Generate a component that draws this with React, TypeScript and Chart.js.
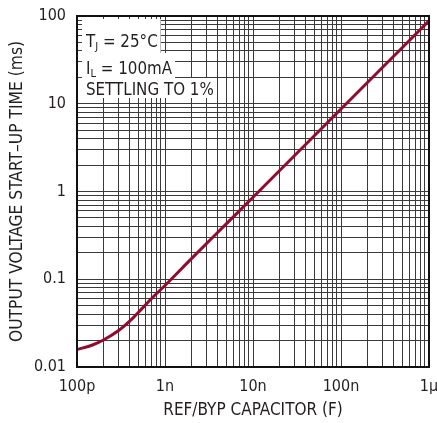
import React, { useEffect, useRef } from "react";
import { Chart, registerables } from "chart.js";

Chart.register(...registerables);

// ---- data ----
const capacitanceF = [1e-10, 1.5e-10, 2e-10, 3e-10, 4e-10, 5e-10, 7e-10, 1e-9, 2e-9, 5e-9, 1e-8, 1e-7, 1e-6];
const startupMs = [0.0158, 0.0178, 0.0203, 0.0262, 0.0335, 0.042, 0.06, 0.085, 0.172, 0.43, 0.86, 8.7, 88];

const xDecades = [1e-10, 1e-9, 1e-8, 1e-7, 1e-6];
const xTickLabels = ["100p", "1n", "10n", "100n", "1µ"];
const yDecades = [0.01, 0.1, 1, 10, 100];
const yTickLabels = ["0.01", "0.1", "1", "10", "100"];

const xTitle = "REF/BYP CAPACITOR (F)";
const yTitle = "OUTPUT VOLTAGE START–UP TIME (ms)";
const notes = [
  { main: "T", sub: "J", rest: " = 25°C" },
  { main: "I", sub: "L", rest: " = 100mA" },
  { main: "SETTLING TO 1%", sub: "", rest: "" },
];

const FONT = "'Liberation Sans Narrow', 'DejaVu Sans Condensed', 'Arial Narrow', sans-serif";
const INK = "#231f20";
const CURVE = "#930b2c";
const GRID = "#3a3a3a";

function logTicks(decades: number[]) {
  const out: { value: number }[] = [];
  for (let i = 0; i < decades.length - 1; i++) {
    for (let m = 1; m <= 9; m++) out.push({ value: decades[i] * m });
  }
  out.push({ value: decades[decades.length - 1] });
  return out;
}

function labelFor(value: number, decades: number[], labels: string[]) {
  for (let i = 0; i < decades.length; i++) {
    if (Math.abs(value - decades[i]) / decades[i] < 1e-6) return labels[i];
  }
  return "";
}

const overlayPlugin = {
  id: "overlay",
  afterDatasetsDraw(chart: any) {
    const ctx = chart.ctx;
    const a = chart.chartArea;
    ctx.save();
    const bx = a.left + 5;
    const tx = a.left + 9;
    const boxes = [
      { top: a.top + 3, bottom: a.top + 37, base: a.top + 31 },
      { top: a.top + 37, bottom: a.top + 62, base: a.top + 58 },
      { top: a.top + 62, bottom: a.top + 82, base: a.top + 78.5 },
    ];
    const big = `16.8px ${FONT}`;
    const small = `11px ${FONT}`;
    notes.forEach((n, i) => {
      ctx.font = big;
      const wMain = ctx.measureText(n.main).width;
      ctx.font = small;
      const wSub = n.sub ? ctx.measureText(n.sub).width : 0;
      ctx.font = big;
      const wRest = n.rest ? ctx.measureText(n.rest).width : 0;
      const total = wMain + wSub + wRest;
      const b = boxes[i];
      ctx.fillStyle = "#ffffff";
      ctx.fillRect(bx, b.top, tx - bx + total + 3, b.bottom - b.top);
      ctx.fillStyle = INK;
      ctx.textBaseline = "alphabetic";
      ctx.textAlign = "left";
      ctx.font = big;
      ctx.fillText(n.main, tx, b.base);
      if (n.sub) {
        ctx.font = small;
        ctx.fillText(n.sub, tx + wMain, b.base + 3);
      }
      if (n.rest) {
        ctx.font = big;
        ctx.fillText(n.rest, tx + wMain + wSub, b.base);
      }
    });
    ctx.restore();
  },
  afterDraw(chart: any) {
    const ctx = chart.ctx;
    const a = chart.chartArea;
    ctx.save();
    ctx.strokeStyle = "#111";
    ctx.lineWidth = 2;
    ctx.strokeRect(a.left, a.top, a.right - a.left, a.bottom - a.top);
    ctx.restore();
  },
};

export default function App() {
  const ref = useRef<HTMLCanvasElement | null>(null);

  useEffect(() => {
    document.body.style.margin = "0";
    const canvas = ref.current;
    if (!canvas) return;
    const chart = new Chart(canvas, {
      type: "line",
      data: {
        datasets: [
          {
            data: capacitanceF.map((c, i) => ({ x: c, y: startupMs[i] })),
            borderColor: CURVE,
            borderWidth: 3,
            pointRadius: 0,
            cubicInterpolationMode: "monotone",
            fill: false,
          },
        ],
      },
      options: {
        animation: false,
        responsive: false,
        devicePixelRatio: 1,
        layout: { padding: { left: 0, right: 8, top: 16, bottom: 0 } },
        plugins: { legend: { display: false }, tooltip: { enabled: false } },
        scales: {
          x: {
            type: "logarithmic",
            min: 1e-10,
            max: 1e-6,
            afterBuildTicks: (s: any) => {
              s.ticks = logTicks(xDecades);
            },
            afterFit: (s: any) => {
              s.height = 56;
              s.paddingLeft = 0;
              s.paddingRight = 0;
            },
            grid: { color: GRID, lineWidth: 1, drawTicks: false },
            border: { display: false },
            ticks: {
              autoSkip: false,
              maxRotation: 0,
              minRotation: 0,
              padding: 10,
              color: INK,
              font: { family: FONT, size: 16 },
              callback: (v: any) => labelFor(Number(v), xDecades, xTickLabels),
            },
            title: {
              display: true,
              text: xTitle,
              color: INK,
              font: { family: FONT, size: 17 },
              padding: { top: 2, bottom: 2 },
            },
          },
          y: {
            type: "logarithmic",
            min: 0.01,
            max: 100,
            afterBuildTicks: (s: any) => {
              s.ticks = logTicks(yDecades);
            },
            afterFit: (s: any) => {
              s.width = 77;
              s.paddingTop = 0;
              s.paddingBottom = 0;
            },
            grid: { color: GRID, lineWidth: 1, drawTicks: false },
            border: { display: false },
            ticks: {
              autoSkip: false,
              padding: 11,
              color: INK,
              font: { family: FONT, size: 16 },
              callback: (v: any) => labelFor(Number(v), yDecades, yTickLabels),
            },
            title: {
              display: true,
              text: yTitle,
              color: INK,
              font: { family: FONT, size: 17.3 },
              padding: { top: 7, bottom: 0 },
            },
          },
        },
      },
      plugins: [overlayPlugin],
    } as any);
    return () => chart.destroy();
  }, []);

  return (
    <div style={{ width: 437, height: 423, background: "#fff" }}>
      <canvas ref={ref} width={437} height={423} />
    </div>
  );
}
